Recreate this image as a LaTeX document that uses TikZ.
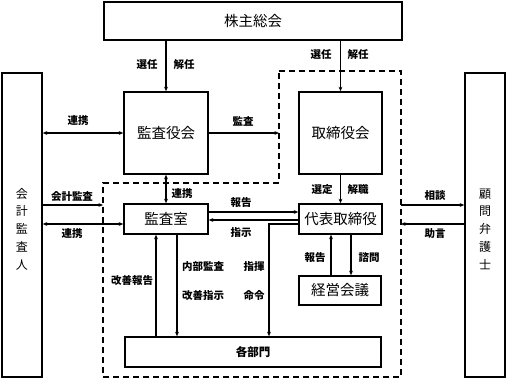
\documentclass[tikz,border=0pt]{standalone}
\usepackage{fontspec}
\setmainfont{Noto Sans CJK JP}
\usetikzlibrary{arrows.meta,calc}
\tikzset{
  box/.style={draw, line width=1.6pt, inner sep=0pt, font=\fontsize{14.5}{16}\selectfont},
  lbl/.style={inner sep=0pt, font=\bfseries\fontsize{10.5}{12}\selectfont},
  arr/.style={line width=1.1pt, -{Stealth[length=4.5pt,width=3.8pt]}},
  darr/.style={line width=1.1pt, {Stealth[length=4.5pt,width=3.8pt]}-{Stealth[length=4.5pt,width=3.8pt]}},
  vtext/.style={align=center, inner sep=0pt, font=\fontsize{12}{17.8}\selectfont},
  dash region/.style={line width=1.3pt, dash pattern=on 6pt off 4pt}
}
\begin{document}
\begin{tikzpicture}[x=1pt,y=-1pt]
\useasboundingbox (0,0) rectangle (507,379);
% dashed region
\draw[dash region] (279,71) -- (401,71) -- (401,377) -- (103,377) -- (103,183) -- (279,183) -- cycle;
% boxes
\node[box, minimum width=298pt, minimum height=38pt] (kabu) at (253,21) {株主総会};
\node[box, minimum width=40pt, minimum height=304pt] (kaikei) at (22,225) {};
\node[vtext] (kaikeiT) at (22,229) {会\\計\\監\\査\\人};
\node[box, minimum width=40pt, minimum height=304pt] (bengo) at (485,225) {};
\node[vtext] (bengoT) at (485,229) {顧\\問\\弁\\護\\士};
\node[box, minimum width=84pt, minimum height=82pt] (kansayaku) at (166,133) {監査役会};
\node[box, minimum width=83pt, minimum height=82pt] (tori) at (340.5,133) {取締役会};
\node[box, minimum width=84pt, minimum height=30pt] (shitsu) at (166,219) {監査室};
\node[box, minimum width=83pt, minimum height=30pt] (daihyo) at (340.5,219) {代表取締役};
\node[box, minimum width=82pt, minimum height=29pt] (keiei) at (340,290.5) {経営会議};
\node[box, minimum width=256pt, minimum height=30pt, font=\bfseries\fontsize{11.5}{13}\selectfont] (bumon) at (253,352) {各部門};
% helper coordinates
\coordinate (dA) at (279,133);
\coordinate (dB) at (103,205);
\coordinate (dC) at (401,205);
\coordinate (dD) at (401,224);
\coordinate (xK) at (156,0);
\coordinate (xN) at (177,0);
\coordinate (xH) at (331,0);
\coordinate (xS) at (351,0);
\coordinate (xM) at (269,0);
% connectors
\draw[arr] (kabu.south -| kansayaku.north) -- (kansayaku.north);
\draw[arr] (kabu.south -| tori.north) -- (tori.north);
\draw[darr] (kaikei.east |- kansayaku.west) -- (kansayaku.west);
\draw[arr] (kansayaku.east) -- (dA);
\draw[darr] (kansayaku.south) -- (shitsu.north);
\draw[arr] (tori.south) -- (daihyo.north);
\draw[arr] (kaikei.east |- dB) -- (dB);
\draw[darr] (kaikei.east |- 0,224) -- ([yshift=-5pt]shitsu.west);
\draw[arr] ([yshift=7pt]shitsu.east) -- ([yshift=7pt]daihyo.west);
\draw[arr] ([yshift=-1pt]daihyo.west) -- ([yshift=-1pt]shitsu.east);
\draw[arr] ([yshift=-5pt]daihyo.west) -| (bumon.north -| xM);
\draw[arr] (bumon.north -| xK) -- (shitsu.south -| xK);
\draw[arr] (shitsu.south -| xN) -- (bumon.north -| xN);
\draw[arr] (keiei.north -| xH) -- (daihyo.south -| xH);
\draw[arr] (daihyo.south -| xS) -- (keiei.north -| xS);
\draw[arr] (dC) -- (bengo.west |- dC);
\draw[arr] (bengo.west |- dD) -- (dD);
% labels
\node[lbl] (l1) at (147,65) {選任};
\node[lbl] (l2) at (184,65) {解任};
\node[lbl] (l3) at (321,55) {選任};
\node[lbl] (l4) at (358,55) {解任};
\node[lbl] (l5) at (78,121) {連携};
\node[lbl] (l6) at (243,121) {監査};
\node[lbl] (l7) at (182,194) {連携};
\node[lbl] (l8) at (72,197) {会計監査};
\node[lbl] (l9) at (72,234) {連携};
\node[lbl] (l10) at (241,203) {報告};
\node[lbl] (l11) at (241,233) {指示};
\node[lbl] (l12) at (322,190) {選定};
\node[lbl] (l13) at (358,190) {解職};
\node[lbl] (l14) at (132,281) {改善報告};
\node[lbl] (l15) at (203,267) {内部監査};
\node[lbl] (l16) at (203,296) {改善指示};
\node[lbl] (l17) at (254,267) {指揮};
\node[lbl] (l18) at (254,296) {命令};
\node[lbl] (l19) at (315,258) {報告};
\node[lbl] (l20) at (369,258) {諮問};
\node[lbl] (l21) at (435,196) {相談};
\node[lbl] (l22) at (435,234) {助言};
\end{tikzpicture}
\end{document}
